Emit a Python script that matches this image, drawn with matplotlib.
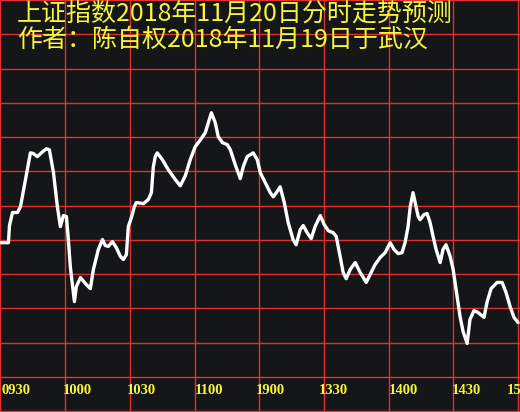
import matplotlib
matplotlib.use("Agg")
import matplotlib.pyplot as plt
import matplotlib.transforms as mtransforms

plt.rcParams['font.family'] = ['Noto Sans CJK SC', 'DejaVu Sans']

title1 = "上证指数2018年11月20日分时走势预测"
title2 = "作者：陈自权2018年11月19日于武汉"

# trading minutes after 09:30 (lunch break removed) and index level
minutes = [0, 3.7, 4.2, 5.6, 7.9, 9.3, 11.6, 13.9, 15.3, 17.1, 19.5, 21.3, 22.7,
           24.6, 26.4, 27.8, 29.2, 30.6, 31.5, 32.4, 34.3, 35.2, 37.1, 39.8, 41.7,
           43.1, 45.4, 47.3, 48.6, 50.0, 51.9, 53.7, 55.6, 57.0, 58.4, 59.3, 60.7,
           62.1, 63.0, 66.3, 68.6, 70.0, 70.9, 71.8, 72.7, 75.1, 77.8, 81.1, 83.4,
           85.7, 88.0, 90.3, 92.7, 95.0, 96.4, 97.8, 99.6, 101.0, 102.9, 105.2,
           106.6, 108.9, 111.2, 112.6, 114.4, 117.2, 119.1, 120.5, 122.8, 125.1,
           126.5, 128.3, 129.7, 131.6, 133.4, 135.7, 137.1, 139.0, 140.4, 142.2,
           144.1, 145.9, 148.3, 150.1, 152.0, 154.3, 155.7, 157.5, 158.9, 160.3,
           162.2, 164.5, 166.8, 169.6, 171.4, 173.7, 176.1, 178.4, 180.7, 182.5,
           184.4, 186.2, 187.6, 189.0, 190.0, 191.3, 192.3, 193.7, 194.6, 196.4,
           197.8, 199.2, 200.6, 202.0, 203.9, 205.2, 206.6, 208.5, 209.9, 211.3,
           213.1, 214.5, 216.4, 217.7, 219.6, 221.5, 224.2, 225.6, 227.5, 230.3,
           232.6, 234.4, 236.3, 238.1, 240.0]
index = [2649.2, 2649.2, 2654.2, 2658.0, 2658.0, 2659.7, 2667.6, 2675.4, 2675.2,
         2674.3, 2675.7, 2676.6, 2676.3, 2669.6, 2659.7, 2653.9, 2657.1, 2656.8,
         2650.1, 2642.2, 2632.0, 2636.4, 2639.0, 2637.0, 2635.8, 2641.4, 2647.2,
         2650.1, 2648.4, 2648.1, 2649.5, 2647.8, 2645.2, 2644.3, 2645.7, 2653.9,
         2656.5, 2659.7, 2660.9, 2660.6, 2661.8, 2663.8, 2671.4, 2674.3, 2675.4,
         2673.4, 2670.5, 2667.6, 2665.8, 2668.7, 2673.4, 2677.2, 2679.2, 2681.3,
         2684.2, 2687.1, 2684.2, 2680.1, 2678.4, 2677.8, 2676.3, 2671.9, 2667.9,
         2671.4, 2674.3, 2675.4, 2673.4, 2669.6, 2666.7, 2663.8, 2662.6, 2664.1,
         2665.5, 2660.9, 2655.1, 2650.1, 2648.6, 2653.0, 2654.2, 2652.1, 2650.4,
         2653.9, 2657.1, 2654.5, 2652.7, 2652.1, 2651.0, 2645.2, 2640.5, 2638.7,
         2641.4, 2643.4, 2640.5, 2637.6, 2639.9, 2642.8, 2644.9, 2646.3, 2649.2,
         2647.2, 2646.0, 2646.3, 2649.2, 2653.9, 2659.7, 2663.8, 2660.9, 2656.8,
         2655.9, 2657.4, 2657.7, 2655.1, 2651.0, 2647.2, 2643.4, 2647.2, 2648.6,
         2645.2, 2641.4, 2635.5, 2627.7, 2623.3, 2619.8, 2626.8, 2629.4, 2628.8,
         2627.4, 2631.8, 2635.8, 2637.6, 2637.6, 2634.7, 2630.6, 2627.4, 2625.9]

tick_minutes = [0, 30, 60, 90, 120, 150, 180, 210, 240]
tick_labels = ["0930", "1000", "1030", "1100", "1900", "1330", "1400", "1430", "1500"]
label_shift = [1, -2, -3, 0, -3, -5, 0, -2, -11]   # pixels

bg = '#151618'
red = '#e3302d'
yellow = '#f7f53a'

fig = plt.figure(figsize=(5.2, 4.12), dpi=100, facecolor=bg)
ax = fig.add_axes([0, 0, 1, 1])
ax.set_facecolor(bg)
ax.set_xlim(-0.2, 240.9)
ax.set_ylim(2599.8, 2720.0)

for t in tick_minutes:
    ax.axvline(t, color=red, lw=1.0, zorder=1)
for lvl in range(2600, 2721, 10):
    ax.axhline(lvl, color=red, lw=1.0, zorder=1)

ax.plot(minutes, index, color='white', lw=2.4, solid_joinstyle='round',
        solid_capstyle='round', zorder=3)

for t, lab, dx in zip(tick_minutes, tick_labels, label_shift):
    tr = ax.get_xaxis_transform() + mtransforms.ScaledTranslation(dx / 100, 0, fig.dpi_scale_trans)
    ax.text(t, 22 / 412, lab, transform=tr, ha='left', va='center',
            color=yellow, fontsize=10.5, fontweight='bold',
            family=['Liberation Serif', 'DejaVu Serif'], zorder=4)

# both title lines in one text block
fig.text(17 / 520, 1 - 1 / 412, title1 + "\n" + title2, color=yellow, fontsize=18,
         ha='left', va='top', linespacing=0.98, multialignment='left')

ax.set_xticks([])
ax.set_yticks([])
for s in ax.spines.values():
    s.set_visible(False)

fig.savefig("out.png", dpi=100, facecolor=bg)
